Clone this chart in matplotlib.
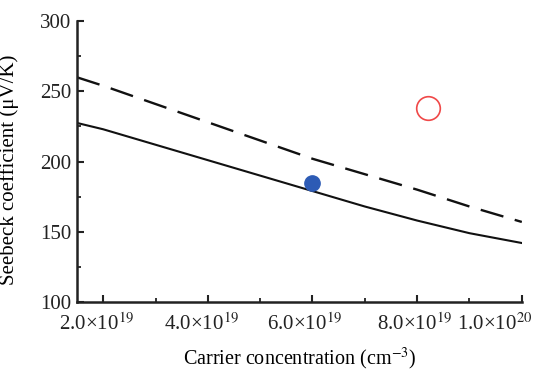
import matplotlib
matplotlib.use("Agg")
import matplotlib.pyplot as plt
import numpy as np
from matplotlib.ticker import MultipleLocator
from matplotlib.transforms import ScaledTranslation

plt.rcParams['font.family'] = ['Liberation Serif', 'DejaVu Serif']
plt.rcParams['mathtext.fontset'] = 'stix'

# carrier concentration (units of 1e19 cm^-3)
carrier = [1.5, 2, 3, 4, 5, 6, 7, 8, 9, 10]
seebeck_solid = [227.5, 223, 212, 201, 190, 179, 168, 158, 149, 142]
seebeck_dashed = [260, 254, 241, 228, 215, 202, 191, 180, 168, 157]

exp_filled_x = [6.0]
exp_filled_y = [185]
exp_open_x = [8.2]
exp_open_y = [238]

xticks = [2, 4, 6, 8, 10]
xticklabels = ['2.0×10$^{19}$', '4.0×10$^{19}$', '6.0×10$^{19}$',
               '8.0×10$^{19}$', '1.0×10$^{20}$']
yticks = [100, 150, 200, 250, 300]

fig = plt.figure(figsize=(5.33, 3.71), dpi=100)
ax = fig.add_axes([0.1445, 0.186, 0.8345, 0.757])

ax.plot(carrier, seebeck_solid, '-', color='#111111', lw=1.5)
ax.plot(carrier, seebeck_dashed, color='#111111', lw=1.7, dashes=(10, 5))
ax.plot(exp_filled_x, exp_filled_y, 'o', color='#2d5bb5', ms=11, mec='#2d5bb5')
ax.plot(exp_open_x, exp_open_y, 'o', mfc='none', mec='#f04848', ms=17, mew=1.2)

ax.set_xlim(1.5, 10)
ax.set_ylim(100, 300)
ax.set_xticks(xticks)
ax.set_xticklabels(xticklabels)
ax.set_yticks(yticks)
ax.xaxis.set_minor_locator(MultipleLocator(1))
ax.yaxis.set_minor_locator(MultipleLocator(25))

ax.spines['top'].set_visible(False)
ax.spines['right'].set_visible(False)
for s in ['left', 'bottom']:
    ax.spines[s].set_linewidth(1.8)
    ax.spines[s].set_color('#222222')

ax.tick_params(which='major', direction='in', length=5, width=1.5, labelsize=15, colors='#222222')
ax.tick_params(which='minor', direction='in', length=3, width=1.3, colors='#222222')
ax.tick_params(axis='x', pad=8)
ax.tick_params(axis='y', pad=4)

# shift x tick labels slightly left like the original
shifts = [-7, -6, -8, -3, -27]
for lab, dx in zip(ax.get_xticklabels(), shifts):
    lab.set_transform(lab.get_transform() + ScaledTranslation(dx / 100, 0, fig.dpi_scale_trans))

ax.set_xlabel('Carrier concentration (cm$^{-3}$)', fontsize=14.5, labelpad=8)
ax.set_ylabel('Seebeck coefficient (μV/K)', fontsize=15, labelpad=6)
ax.yaxis.set_label_coords(-0.13, 0.47)

fig.savefig('out.png', dpi=100)
